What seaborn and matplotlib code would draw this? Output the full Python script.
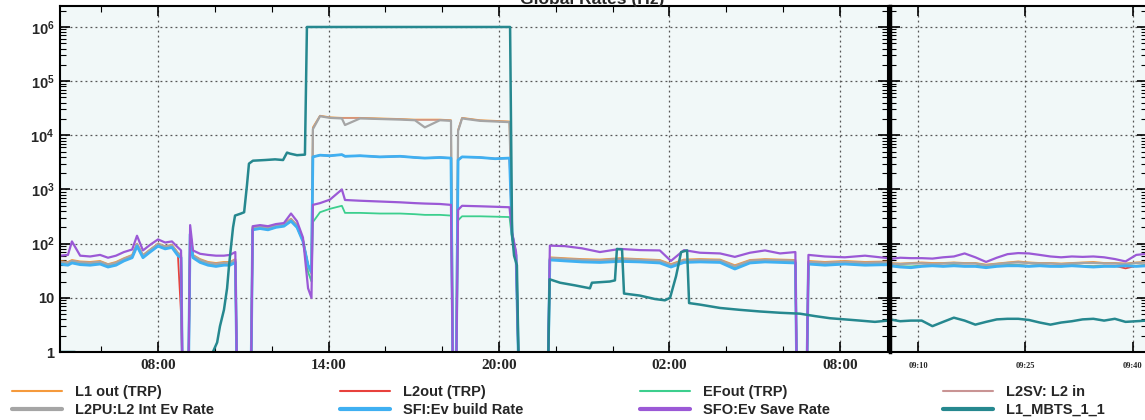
import matplotlib
matplotlib.use("Agg")
import matplotlib.pyplot as plt
import seaborn as sns
from matplotlib.lines import Line2D
from matplotlib.ticker import FixedLocator, FuncFormatter, LogLocator, MultipleLocator, NullFormatter

# --- data (hours since 00:00 of day 1; 0.3 = below the axis, i.e. rate dropped out) ---
t_rates = [4.55, 4.83, 4.97, 5.26, 5.61, 5.96, 6.24, 6.52, 6.80, 7.09,
           7.26, 7.47, 7.72, 8.00, 8.25, 8.49, 8.70, 8.81, 8.86, 9.07,
           9.13, 9.23, 9.48, 9.76, 10.04, 10.32, 10.53, 10.72, 10.78, 11.27,
           11.33, 11.59, 11.87, 12.15, 12.43, 12.68, 12.89, 13.10, 13.28, 13.40,
           13.45, 13.70, 14.05, 14.47, 14.58, 15.11, 15.81, 16.52, 17.04, 17.39,
           17.92, 18.31, 18.38, 18.49, 18.56, 18.70, 19.33, 19.86, 20.37, 20.46,
           20.60, 20.70, 21.72, 21.79, 22.32, 22.92, 23.55, 24.26, 24.96, 25.66,
           26.05, 26.51, 27.07, 27.78, 28.30, 28.83, 29.36, 29.89, 30.43, 30.48,
           30.83, 30.89, 31.47, 32.17, 32.88, 33.69]

l1_out = [48, 46, 50, 47, 46, 48, 42, 46, 54, 62,
          100, 62, 78, 100, 90, 95, 68, 62, 0.3, 0.3,
          170, 62, 52, 46, 44, 46, 46, 52, 0.3, 0.3,
          200, 210, 200, 220, 230, 290, 220, 120, 40, 30,
          14000, 23000, 21500, 21000, 21000, 21000, 20500, 20000, 19500, 19500,
          19500, 19000, 0.3, 0.3, 12500, 21000, 19000, 18500, 18000, 160,
          65, 0.3, 0.3, 56, 54, 52, 51, 54, 52, 50,
          42, 51, 52, 51, 40, 50, 52, 51, 50, 0.3,
          0.3, 48, 46, 48, 46, 47]

l2_out = [43, 41, 45, 42, 41, 43, 38, 41, 49, 56,
          92, 56, 71, 92, 82, 86, 61, 5, 0.3, 0.3,
          150, 56, 46, 41, 39, 41, 41, 46, 0.3, 0.3,
          182, 192, 182, 202, 212, 262, 202, 112, 40, 30,
          4000, 4300, 4200, 4400, 4100, 4200, 4000, 4100, 3900, 3800,
          3900, 3800, 0.3, 0.3, 3500, 4000, 3900, 3700, 3800, 150,
          60, 0.3, 0.3, 51, 49, 47, 46, 48, 47, 45,
          38, 46, 47, 46, 35, 45, 47, 46, 45, 0.3,
          0.3, 43, 41, 43, 41, 42]

ef_out = [44, 42, 46, 43, 42, 44, 39, 42, 50, 57,
          92, 58, 72, 92, 83, 88, 63, 57, 0.3, 0.3,
          150, 58, 47, 42, 40, 42, 42, 47, 0.3, 0.3,
          185, 195, 185, 205, 215, 265, 205, 115, 30, 20,
          250, 380, 440, 500, 370, 370, 360, 360, 350, 340,
          340, 330, 0.3, 0.3, 270, 320, 320, 315, 310, 120,
          60, 0.3, 0.3, 52, 50, 48, 47, 48, 47, 46,
          39, 47, 47, 46, 36, 45, 47, 46, 45, 0.3,
          0.3, 43, 41, 43, 41, 42]

l2sv_in = [47, 45, 49, 46, 45, 47, 41, 45, 53, 61,
           99, 61, 77, 99, 89, 94, 67, 61, 0.3, 0.3,
           168, 61, 51, 45, 43, 45, 45, 51, 0.3, 0.3,
           198, 208, 198, 218, 228, 285, 218, 119, 39, 29,
           13500, 22800, 21200, 20800, 20800, 20800, 20200, 19800, 19200, 19200,
           19200, 18800, 0.3, 0.3, 12200, 20800, 18800, 18200, 17800, 158,
           63, 0.3, 0.3, 55, 53, 51, 50, 53, 51, 49,
           41, 50, 51, 50, 39, 49, 51, 50, 49, 0.3,
           0.3, 47, 45, 47, 45, 46]

l2pu_int = [46, 44, 48, 45, 44, 46, 41, 44, 52, 60,
            98, 60, 76, 98, 88, 92, 66, 60, 0.3, 0.3,
            165, 60, 50, 44, 42, 44, 44, 50, 0.3, 0.3,
            195, 205, 195, 215, 225, 280, 215, 118, 38, 28,
            13000, 22500, 21000, 20500, 15500, 20500, 20000, 19500, 19000, 14000,
            19000, 18500, 0.3, 0.3, 12000, 20500, 18500, 18000, 17500, 155,
            62, 0.3, 0.3, 54, 52, 50, 49, 52, 50, 48,
            40, 49, 50, 49, 38, 48, 50, 49, 48, 0.3,
            0.3, 46, 44, 46, 44, 45]

sfi_build = [42, 40, 44, 41, 40, 42, 37, 40, 48, 55,
             90, 55, 70, 90, 80, 85, 60, 55, 0.3, 0.3,
             150, 55, 45, 40, 38, 40, 40, 45, 0.3, 0.3,
             180, 190, 180, 200, 210, 260, 200, 110, 40, 30,
             4000, 4300, 4200, 4400, 4100, 4200, 4000, 4100, 3900, 3800,
             3900, 3800, 0.3, 0.3, 3500, 4000, 3900, 3700, 3800, 150,
             60, 0.3, 0.3, 50, 48, 46, 45, 47, 46, 44,
             37, 45, 46, 45, 34, 44, 46, 45, 44, 0.3,
             0.3, 42, 40, 42, 40, 41]

sfo_save = [60, 62, 110, 60, 58, 62, 55, 60, 70, 78,
            140, 75, 95, 120, 105, 110, 85, 75, 0.3, 0.3,
            220, 75, 65, 62, 60, 60, 62, 70, 0.3, 0.3,
            210, 220, 210, 230, 240, 360, 260, 130, 15, 10,
            520, 560, 650, 1000, 640, 620, 600, 580, 560, 550,
            540, 520, 0.3, 0.3, 420, 500, 490, 480, 470, 160,
            70, 0.3, 0.3, 92, 90, 82, 70, 80, 76, 75,
            48, 76, 68, 66, 57, 68, 75, 66, 70, 0.3,
            0.3, 62, 58, 56, 60, 54]

t_mbts = [4.55, 5.08, 5.19, 9.86, 9.93, 10.08, 10.18, 10.32, 10.43, 10.50,
          10.57, 10.64, 10.71, 10.92, 11.03, 11.13, 11.20, 11.34, 11.77, 12.12,
          12.40, 12.54, 12.64, 12.89, 13.17, 13.24, 20.39, 20.46, 20.53, 20.63,
          20.70, 21.72, 21.78, 22.15, 22.67, 23.20, 23.27, 23.90, 24.08, 24.15,
          24.33, 24.40, 24.96, 25.49, 25.84, 26.02, 26.23, 26.41, 26.62, 26.69,
          27.07, 27.78, 28.48, 29.18, 29.89, 30.59, 31.12, 31.65, 32.17, 32.70,
          33.23, 33.69]
mbts = [1.0, 1.0, 0.3, 0.3, 1.0, 1.5, 3, 6, 15, 40,
        90, 200, 330, 360, 380, 1200, 3000, 3400, 3500, 3600,
        3500, 4800, 4600, 4300, 4400, 1.0e6, 1.0e6, 150, 60, 40,
        0.3, 0.3, 22, 19, 17, 15, 19, 20, 21, 80,
        78, 12, 11, 9.5, 9, 10, 25, 70, 75, 8,
        7.5, 6.5, 6, 5.6, 5.3, 5.1, 4.6, 4.2, 4.0, 3.8,
        3.6, 3.8]

# zoomed panel: minutes after 09:00 on day 2
t_zoom = [6.0, 7.5, 9.0, 10.5, 12.0, 13.5, 15.0, 16.5, 18.0, 19.5, 21.0, 22.5, 24.0,
          25.5, 27.0, 28.5, 30.0, 31.5, 33.0, 34.5, 36.0, 37.5, 39.0, 40.5, 42.0]
l1_out_z = [44, 43, 44, 45, 44, 44, 45, 44, 44, 41, 43, 45, 47, 45, 44, 44, 43, 44, 45, 46, 44, 44, 43, 45, 46]
l2_out_z = [40, 38, 37, 39, 40, 39, 40, 39, 39, 37, 39, 40, 40, 39, 40, 39, 39, 40, 39, 38, 39, 39, 35, 39, 40]
ef_out_z = [40, 38, 38, 39, 40, 39, 40, 39, 39, 37, 39, 40, 40, 39, 40, 39, 38, 40, 39, 38, 39, 38, 40, 39, 40]
l2sv_in_z = [43, 42, 43, 44, 43, 43, 44, 43, 43, 40, 42, 44, 46, 44, 43, 43, 42, 43, 44, 45, 43, 43, 42, 44, 45]
l2pu_int_z = [43, 42, 43, 43, 42, 43, 44, 43, 43, 40, 42, 44, 45, 44, 43, 43, 42, 43, 44, 44, 43, 43, 42, 44, 45]
sfi_build_z = [39, 37, 36, 38, 39, 38, 39, 38, 38, 36, 38, 39, 39, 38, 39, 38, 38, 39, 38, 37, 38, 38, 39, 38, 39]
sfo_save_z = [52, 55, 54, 54, 53, 56, 58, 66, 56, 46, 55, 64, 67, 66, 62, 58, 56, 58, 57, 58, 56, 52, 47, 62, 65]
mbts_z = [4.0, 3.7, 3.8, 3.8, 3.0, 3.6, 4.3, 3.8, 3.2, 3.6, 4.0, 4.1, 4.1, 3.9, 3.5, 3.2, 3.5, 3.7,
          4.0, 4.1, 3.8, 4.1, 3.6, 3.7, 3.8]

labels = ["L1 out (TRP)", "L2out (TRP)", "EFout (TRP)", "L2SV: L2 in",
          "L2PU:L2 Int Ev Rate", "SFI:Ev build Rate", "SFO:Ev Save Rate", "L1_MBTS_1_1"]
colors = ["#f59a3c", "#e8413c", "#3ccf8e", "#c99494",
          "#a5a5a5", "#3fb0f2", "#9b59d6", "#26888f"]
widths = [1.3, 1.3, 1.3, 1.0, 1.6, 2.0, 1.6, 1.8]

series = [
    (t_rates, l1_out, t_zoom, l1_out_z),
    (t_rates, l2_out, t_zoom, l2_out_z),
    (t_rates, ef_out, t_zoom, ef_out_z),
    (t_rates, l2sv_in, t_zoom, l2sv_in_z),
    (t_rates, l2pu_int, t_zoom, l2pu_int_z),
    (t_rates, sfi_build, t_zoom, sfi_build_z),
    (t_rates, sfo_save, t_zoom, sfo_save_z),
    (t_mbts, mbts, t_zoom, mbts_z),
]

sns.set_theme(style="ticks")
plt.rcParams["font.family"] = ["Liberation Sans", "DejaVu Sans"]
plt.rcParams["mathtext.fontset"] = "custom"
plt.rcParams["mathtext.rm"] = "Liberation Sans:bold"
plt.rcParams["mathtext.bf"] = "Liberation Sans:bold"
plt.rcParams["mathtext.default"] = "bf"

BG = "#f1f8f8"
W, H = 1145, 420
fig = plt.figure(figsize=(W / 100, H / 100), dpi=100)
ax = fig.add_axes([60 / W, 68 / H, 828 / W, 346 / H])
ax2 = fig.add_axes([890 / W, 68 / H, 257 / W, 346 / H])

for (tx, vy, tz, vz), lab, c, lw in zip(series, labels, colors, widths):
    sns.lineplot(x=tx, y=vy, ax=ax, color=c, lw=lw, estimator=None, sort=False, legend=False)
    sns.lineplot(x=tz, y=vz, ax=ax2, color=c, lw=lw, estimator=None, sort=False, legend=False)

for a in (ax, ax2):
    a.set_facecolor(BG)
    a.set_yscale("log")
    a.set_ylim(1, 2.44e6)
    a.yaxis.set_major_locator(FixedLocator([1, 10, 1e2, 1e3, 1e4, 1e5, 1e6]))
    a.yaxis.set_minor_locator(LogLocator(base=10, subs=range(2, 10)))
    a.yaxis.set_minor_formatter(NullFormatter())
    a.tick_params(which="both", direction="in", top=True, right=True, color="black")
    a.tick_params(which="major", length=7, width=1.2)
    a.tick_params(which="minor", length=4, width=0.8)
    a.grid(True, which="major", color="#555555", linestyle=(0, (1.5, 2.5)), linewidth=0.9)
    a.set_xlabel("")
    a.set_ylabel("")
    for s in a.spines.values():
        s.set_color("black")
        s.set_linewidth(1.5)

# main panel axes
ax.set_xlim(4.55, 33.69)
ax.xaxis.set_major_locator(FixedLocator([8, 14, 20, 26, 32]))
ax.xaxis.set_minor_locator(MultipleLocator(2))
ax.xaxis.set_major_formatter(FuncFormatter(lambda h, p: f"{int(round(h)) % 24:02d}:00"))
ax.set_yticklabels(["1", "10", r"$10^{2}$", r"$10^{3}$", r"$10^{4}$", r"$10^{5}$", r"$10^{6}$"])
for lab in ax.get_yticklabels():
    lab.set_fontsize(10.5)
    lab.set_fontweight("bold")
for lab in ax.get_xticklabels():
    lab.set_family("Liberation Serif")
    lab.set_fontsize(11)
    lab.set_fontweight("bold")
ax.tick_params(axis="x", pad=5)
ax.tick_params(axis="y", pad=4)

# zoomed panel axes
ax2.set_xlim(6.07, 42.0)
ax2.xaxis.set_major_locator(FixedLocator([10, 25, 40]))
ax2.xaxis.set_major_formatter(FuncFormatter(lambda m, p: f"09:{int(round(m)):02d}"))
ax2.tick_params(axis="y", labelleft=False)
ax2.spines["left"].set_linewidth(2.5)
for lab in ax2.get_xticklabels():
    lab.set_family("Liberation Serif")
    lab.set_fontsize(6)
    lab.set_fontweight("bold")
ax2.tick_params(axis="x", pad=7)

# title sits partly above the top edge, as in the source screenshot
fig.text(592 / W, 1 - 4 / H, "Global Rates (Hz)", ha="center", va="baseline",
         fontsize=12.5, fontweight="bold")

# legend: 4 columns of 2 rows
leg_lw = [1.5, 1.5, 1.5, 1.5, 3, 3, 3, 3]
handles = [Line2D([], [], color=c, lw=w) for c, w in zip(colors, leg_lw)]
col_x = [12, 340, 640, 943]
for i, x0 in enumerate(col_x):
    fig.legend([handles[i], handles[i + 4]], [labels[i], labels[i + 4]],
               loc="upper left", bbox_to_anchor=(x0 / W, 1 - 385 / H),
               frameon=False, borderpad=0, borderaxespad=0, handlelength=3.4,
               handletextpad=0.9, labelspacing=0.25,
               prop={"family": "Liberation Sans", "weight": "bold", "size": 10.5})

fig.savefig("out.png", dpi=100)
